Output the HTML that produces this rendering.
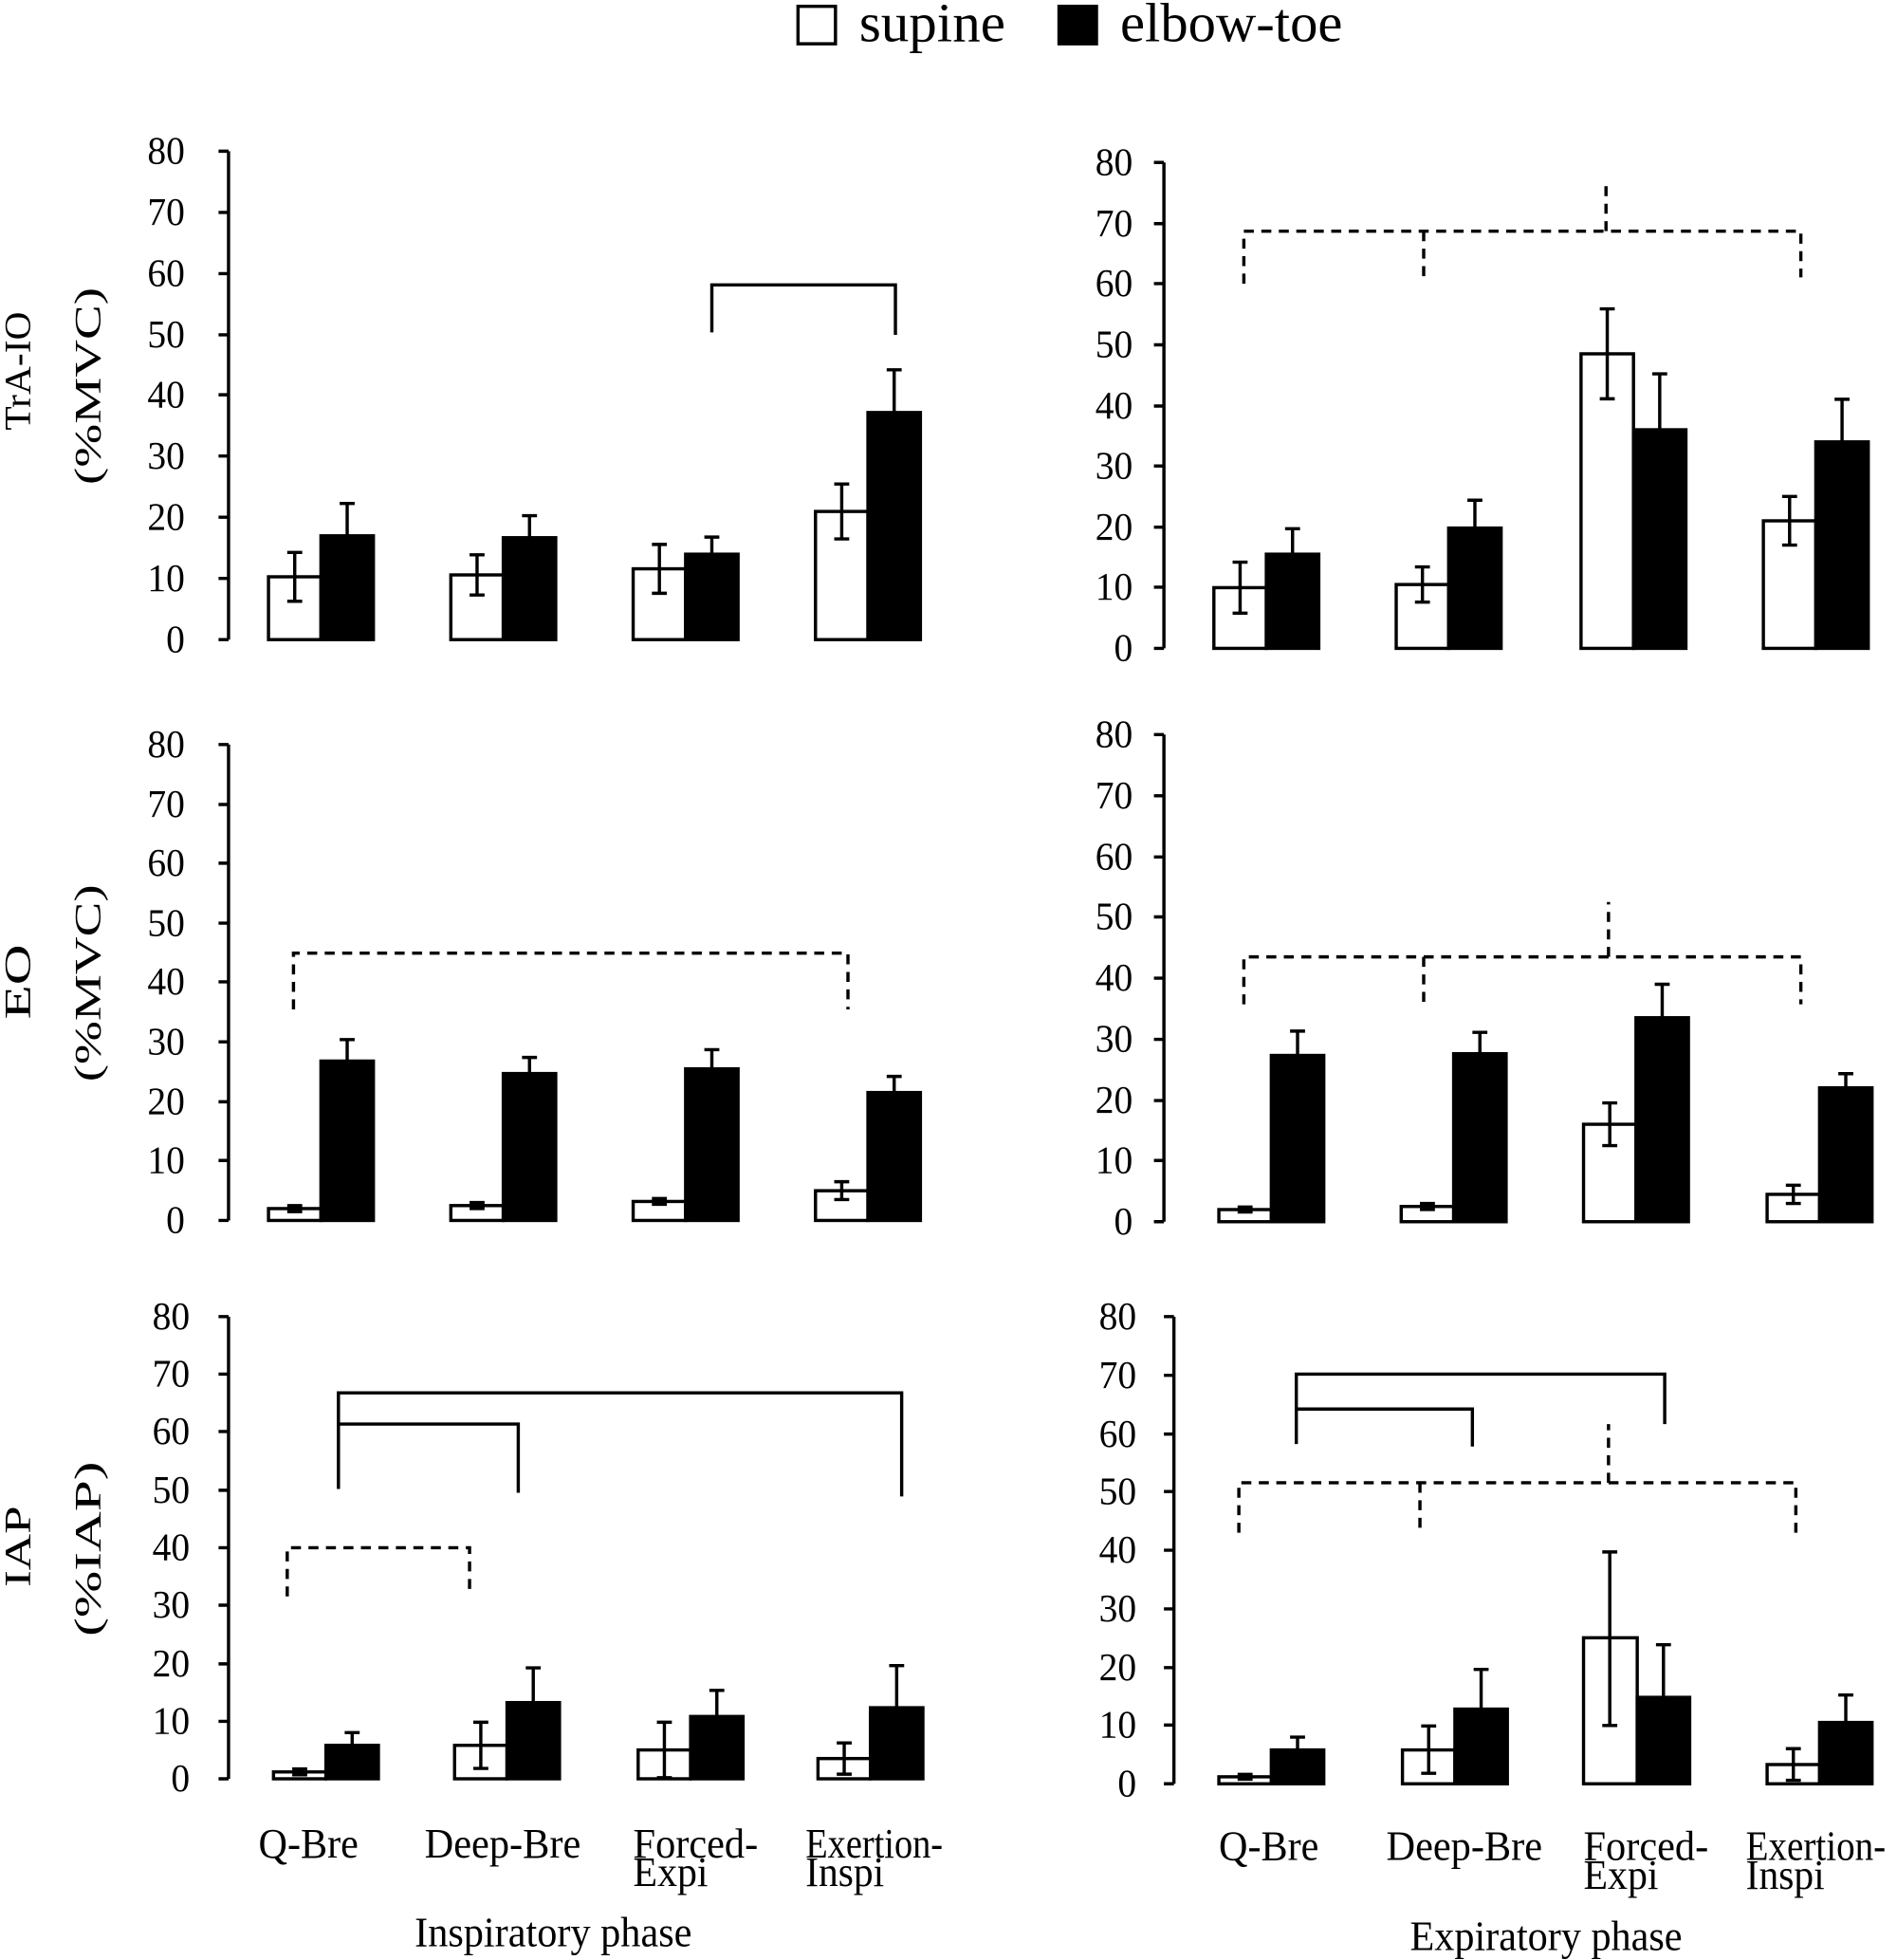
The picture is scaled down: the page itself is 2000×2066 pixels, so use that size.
<!DOCTYPE html>
<html><head><meta charset="utf-8"><style>
html,body{margin:0;padding:0;background:#fff;}
svg{display:block;}
text{font-family:"Liberation Serif",serif;fill:#000;}
.t{font-size:31px;text-anchor:end;}
.c{font-size:34px;}
.yl{font-size:30px;text-anchor:middle;}
</style></head><body>
<svg width="2000" height="2066" viewBox="0 0 1519 1569" xmlns="http://www.w3.org/2000/svg">
<g stroke="#000" stroke-width="2.6" fill="none">
<rect x="639" y="5" width="30" height="30" fill="#fff"/>
<rect x="848" y="5" width="30" height="30" fill="#000"/>
</g>
<text x="688" y="33" style="font-size:44px" textLength="117" lengthAdjust="spacingAndGlyphs">supine</text>
<text x="897" y="33" style="font-size:44px" textLength="178" lengthAdjust="spacingAndGlyphs">elbow-toe</text>

<text class="yl" transform="translate(24,297) rotate(-90)" textLength="95" lengthAdjust="spacingAndGlyphs">TrA-IO</text>
<text class="yl" transform="translate(80,309) rotate(-90)" textLength="158" lengthAdjust="spacingAndGlyphs">(%MVC)</text>
<text class="yl" transform="translate(24,786) rotate(-90)" textLength="60" lengthAdjust="spacingAndGlyphs">EO</text>
<text class="yl" transform="translate(80,787) rotate(-90)" textLength="158" lengthAdjust="spacingAndGlyphs">(%MVC)</text>
<text class="yl" transform="translate(24,1238) rotate(-90)" textLength="65" lengthAdjust="spacingAndGlyphs">IAP</text>
<text class="yl" transform="translate(80,1240) rotate(-90)" textLength="140" lengthAdjust="spacingAndGlyphs">(%IAP)</text>

<g stroke="#000" stroke-width="2.6" fill="none">
<path d="M183 121V512 M175 121H183 M175 170H183 M175 219H183 M175 268H183 M175 316H183 M175 365H183 M175 414H183 M175 463H183 M175 512H183"/>
<path d="M932 130V519 M924 130H932 M924 179H932 M924 227H932 M924 276H932 M924 325H932 M924 373H932 M924 422H932 M924 470H932 M924 519H932"/>
<path d="M183 596V977 M175 596H183 M175 644H183 M175 691H183 M175 739H183 M175 786H183 M175 834H183 M175 882H183 M175 929H183 M175 977H183"/>
<path d="M932 588V978 M924 588H932 M924 637H932 M924 686H932 M924 734H932 M924 783H932 M924 832H932 M924 881H932 M924 929H932 M924 978H932"/>
<path d="M183 1054V1424 M175 1054H183 M175 1100H183 M175 1146H183 M175 1193H183 M175 1239H183 M175 1285H183 M175 1332H183 M175 1378H183 M175 1424H183"/>
<path d="M940 1054V1428 M932 1054H940 M932 1101H940 M932 1148H940 M932 1194H940 M932 1241H940 M932 1288H940 M932 1335H940 M932 1381H940 M932 1428H940"/>
</g>

<g>
<text x="148" y="131" class="t" textLength="30" lengthAdjust="spacingAndGlyphs">80</text><text x="148" y="180" class="t" textLength="30" lengthAdjust="spacingAndGlyphs">70</text><text x="148" y="229" class="t" textLength="30" lengthAdjust="spacingAndGlyphs">60</text><text x="148" y="278" class="t" textLength="30" lengthAdjust="spacingAndGlyphs">50</text><text x="148" y="326" class="t" textLength="30" lengthAdjust="spacingAndGlyphs">40</text><text x="148" y="375" class="t" textLength="30" lengthAdjust="spacingAndGlyphs">30</text><text x="148" y="424" class="t" textLength="30" lengthAdjust="spacingAndGlyphs">20</text><text x="148" y="473" class="t" textLength="30" lengthAdjust="spacingAndGlyphs">10</text><text x="148" y="522" class="t" textLength="15" lengthAdjust="spacingAndGlyphs">0</text>
<text x="907" y="140" class="t" textLength="30" lengthAdjust="spacingAndGlyphs">80</text><text x="907" y="189" class="t" textLength="30" lengthAdjust="spacingAndGlyphs">70</text><text x="907" y="237" class="t" textLength="30" lengthAdjust="spacingAndGlyphs">60</text><text x="907" y="286" class="t" textLength="30" lengthAdjust="spacingAndGlyphs">50</text><text x="907" y="335" class="t" textLength="30" lengthAdjust="spacingAndGlyphs">40</text><text x="907" y="383" class="t" textLength="30" lengthAdjust="spacingAndGlyphs">30</text><text x="907" y="432" class="t" textLength="30" lengthAdjust="spacingAndGlyphs">20</text><text x="907" y="480" class="t" textLength="30" lengthAdjust="spacingAndGlyphs">10</text><text x="907" y="529" class="t" textLength="15" lengthAdjust="spacingAndGlyphs">0</text>
<text x="148" y="606" class="t" textLength="30" lengthAdjust="spacingAndGlyphs">80</text><text x="148" y="654" class="t" textLength="30" lengthAdjust="spacingAndGlyphs">70</text><text x="148" y="701" class="t" textLength="30" lengthAdjust="spacingAndGlyphs">60</text><text x="148" y="749" class="t" textLength="30" lengthAdjust="spacingAndGlyphs">50</text><text x="148" y="796" class="t" textLength="30" lengthAdjust="spacingAndGlyphs">40</text><text x="148" y="844" class="t" textLength="30" lengthAdjust="spacingAndGlyphs">30</text><text x="148" y="892" class="t" textLength="30" lengthAdjust="spacingAndGlyphs">20</text><text x="148" y="939" class="t" textLength="30" lengthAdjust="spacingAndGlyphs">10</text><text x="148" y="987" class="t" textLength="15" lengthAdjust="spacingAndGlyphs">0</text>
<text x="907" y="598" class="t" textLength="30" lengthAdjust="spacingAndGlyphs">80</text><text x="907" y="647" class="t" textLength="30" lengthAdjust="spacingAndGlyphs">70</text><text x="907" y="696" class="t" textLength="30" lengthAdjust="spacingAndGlyphs">60</text><text x="907" y="744" class="t" textLength="30" lengthAdjust="spacingAndGlyphs">50</text><text x="907" y="793" class="t" textLength="30" lengthAdjust="spacingAndGlyphs">40</text><text x="907" y="842" class="t" textLength="30" lengthAdjust="spacingAndGlyphs">30</text><text x="907" y="891" class="t" textLength="30" lengthAdjust="spacingAndGlyphs">20</text><text x="907" y="939" class="t" textLength="30" lengthAdjust="spacingAndGlyphs">10</text><text x="907" y="988" class="t" textLength="15" lengthAdjust="spacingAndGlyphs">0</text>
<text x="152" y="1064" class="t" textLength="30" lengthAdjust="spacingAndGlyphs">80</text><text x="152" y="1110" class="t" textLength="30" lengthAdjust="spacingAndGlyphs">70</text><text x="152" y="1156" class="t" textLength="30" lengthAdjust="spacingAndGlyphs">60</text><text x="152" y="1203" class="t" textLength="30" lengthAdjust="spacingAndGlyphs">50</text><text x="152" y="1249" class="t" textLength="30" lengthAdjust="spacingAndGlyphs">40</text><text x="152" y="1295" class="t" textLength="30" lengthAdjust="spacingAndGlyphs">30</text><text x="152" y="1342" class="t" textLength="30" lengthAdjust="spacingAndGlyphs">20</text><text x="152" y="1388" class="t" textLength="30" lengthAdjust="spacingAndGlyphs">10</text><text x="152" y="1434" class="t" textLength="15" lengthAdjust="spacingAndGlyphs">0</text>
<text x="910" y="1064" class="t" textLength="30" lengthAdjust="spacingAndGlyphs">80</text><text x="910" y="1111" class="t" textLength="30" lengthAdjust="spacingAndGlyphs">70</text><text x="910" y="1158" class="t" textLength="30" lengthAdjust="spacingAndGlyphs">60</text><text x="910" y="1204" class="t" textLength="30" lengthAdjust="spacingAndGlyphs">50</text><text x="910" y="1251" class="t" textLength="30" lengthAdjust="spacingAndGlyphs">40</text><text x="910" y="1298" class="t" textLength="30" lengthAdjust="spacingAndGlyphs">30</text><text x="910" y="1345" class="t" textLength="30" lengthAdjust="spacingAndGlyphs">20</text><text x="910" y="1391" class="t" textLength="30" lengthAdjust="spacingAndGlyphs">10</text><text x="910" y="1438" class="t" textLength="15" lengthAdjust="spacingAndGlyphs">0</text>
</g>

<g stroke="#000" stroke-width="2.6">
<rect x="215" y="461.7" width="42" height="50.3" fill="#fff"/><rect x="257" y="428.9" width="42" height="83.1" fill="#000"/>
<rect x="361" y="460.2" width="42" height="51.8" fill="#fff"/><rect x="403" y="430.4" width="42" height="81.6" fill="#000"/>
<rect x="507" y="455.3" width="42" height="56.7" fill="#fff"/><rect x="549" y="443.6" width="42" height="68.4" fill="#000"/>
<rect x="653" y="409.4" width="42" height="102.6" fill="#fff"/><rect x="695" y="330.2" width="42" height="181.8" fill="#000"/>
<rect x="972" y="470.4" width="42" height="48.6" fill="#fff"/><rect x="1014" y="443.6" width="42" height="75.4" fill="#000"/>
<rect x="1118" y="467.9" width="42" height="51.1" fill="#fff"/><rect x="1160" y="422.7" width="42" height="96.3" fill="#000"/>
<rect x="1266" y="283.2" width="42" height="235.8" fill="#fff"/><rect x="1308" y="344" width="42" height="175" fill="#000"/>
<rect x="1412" y="416.9" width="42" height="102.1" fill="#fff"/><rect x="1454" y="353.7" width="42" height="165.3" fill="#000"/>
<rect x="215" y="967.5" width="42" height="9.5" fill="#fff"/><rect x="257" y="849.4" width="42" height="127.6" fill="#000"/>
<rect x="361" y="965.1" width="42" height="11.9" fill="#fff"/><rect x="403" y="859.4" width="42" height="117.6" fill="#000"/>
<rect x="507" y="961.8" width="42" height="15.2" fill="#fff"/><rect x="549" y="855.6" width="42" height="121.4" fill="#000"/>
<rect x="653" y="953.2" width="42" height="23.8" fill="#fff"/><rect x="695" y="874.6" width="42" height="102.4" fill="#000"/>
<rect x="976" y="968.3" width="42" height="9.7" fill="#fff"/><rect x="1018" y="844.9" width="42" height="133.1" fill="#000"/>
<rect x="1122" y="965.8" width="42" height="12.2" fill="#fff"/><rect x="1164" y="843.5" width="42" height="134.5" fill="#000"/>
<rect x="1268" y="900" width="42" height="78" fill="#fff"/><rect x="1310" y="814.7" width="42" height="163.3" fill="#000"/>
<rect x="1415" y="956.1" width="42" height="21.9" fill="#fff"/><rect x="1457" y="870.8" width="42" height="107.2" fill="#000"/>
<rect x="219" y="1418.5" width="42" height="5.5" fill="#fff"/><rect x="261" y="1397.2" width="42" height="26.8" fill="#000"/>
<rect x="364" y="1397.2" width="42" height="26.8" fill="#fff"/><rect x="406" y="1363" width="42" height="61" fill="#000"/>
<rect x="511" y="1400.9" width="42" height="23.1" fill="#fff"/><rect x="553" y="1374.1" width="42" height="49.9" fill="#000"/>
<rect x="655" y="1407.8" width="42" height="16.2" fill="#fff"/><rect x="697" y="1367.1" width="42" height="56.9" fill="#000"/>
<rect x="976" y="1422.4" width="42" height="5.6" fill="#fff"/><rect x="1018" y="1400.9" width="42" height="27.1" fill="#000"/>
<rect x="1123" y="1400.9" width="42" height="27.1" fill="#fff"/><rect x="1165" y="1368.2" width="42" height="59.8" fill="#000"/>
<rect x="1268" y="1311.1" width="43" height="116.9" fill="#fff"/><rect x="1311" y="1358.8" width="42" height="69.2" fill="#000"/>
<rect x="1415" y="1412.6" width="42" height="15.4" fill="#fff"/><rect x="1457" y="1378.9" width="42" height="49.1" fill="#000"/>
</g>

<g stroke="#000" stroke-width="2.6" fill="none">
<path d="M236 442.2V481.3M230 442.2H242M230 481.3H242 M278 428.9V403M272 403H284"/>
<path d="M382 444.1V476.3M376 444.1H388M376 476.3H388 M424 430.4V412.8M418 412.8H430"/>
<path d="M528 435.8V474.9M522 435.8H534M522 474.9H534 M570 443.6V429.9M564 429.9H576"/>
<path d="M674 387.4V431.4M668 387.4H680M668 431.4H680 M716 330.2V296M710 296H722"/>
<path d="M993 450V490.8M987 450H999M987 490.8H999 M1035 443.6V423.2M1029 423.2H1041"/>
<path d="M1139 453.8V482M1133 453.8H1145M1133 482H1145 M1181 422.7V400.4M1175 400.4H1187"/>
<path d="M1287 247.2V319.2M1281 247.2H1293M1281 319.2H1293 M1329 344V299.2M1323 299.2H1335"/>
<path d="M1433 397.4V436.3M1427 397.4H1439M1427 436.3H1439 M1475 353.7V319.6M1469 319.6H1481"/>
<path d="M236 965.1V969.9M230 965.1H242M230 969.9H242 M278 849.4V832.2M272 832.2H284"/>
<path d="M382 962.7V967.5M376 962.7H388M376 967.5H388 M424 859.4V846.5M418 846.5H430"/>
<path d="M528 959.4V964.1M522 959.4H534M522 964.1H534 M570 855.6V840.3M564 840.3H576"/>
<path d="M674 946V960.3M668 946H680M668 960.3H680 M716 874.6V861.7M710 861.7H722"/>
<path d="M997 966.3V970.2M991 966.3H1003M991 970.2H1003 M1039 844.9V825.4M1033 825.4H1045"/>
<path d="M1143 963.4V968.2M1137 963.4H1149M1137 968.2H1149 M1185 843.5V826.4M1179 826.4H1191"/>
<path d="M1289 882.9V917.1M1283 882.9H1295M1283 917.1H1295 M1331 814.7V787.9M1325 787.9H1337"/>
<path d="M1436 948.8V963.4M1430 948.8H1442M1430 963.4H1442 M1478 870.8V859.5M1472 859.5H1484"/>
<path d="M240 1416.1V1420.8M234 1416.1H246M234 1420.8H246 M282 1397.2V1387M276 1387H288"/>
<path d="M385 1378.7V1415.7M379 1378.7H391M379 1415.7H391 M427 1363V1335.2M421 1335.2H433"/>
<path d="M532 1378.7V1423.1M526 1378.7H538M526 1423.1H538 M574 1374.1V1353.2M568 1353.2H580"/>
<path d="M676 1395.3V1420.3M670 1395.3H682M670 1420.3H682 M718 1367.1V1333.4M712 1333.4H724"/>
<path d="M997 1420.5V1424.3M991 1420.5H1003M991 1424.3H1003 M1039 1400.9V1390.6M1033 1390.6H1045"/>
<path d="M1144 1381.7V1419.6M1138 1381.7H1150M1138 1419.6H1150 M1186 1368.2V1336.4M1180 1336.4H1192"/>
<path d="M1289 1242.4V1381.3M1283 1242.4H1295M1283 1381.3H1295 M1332 1358.8V1316.7M1326 1316.7H1338"/>
<path d="M1436 1399.9V1425.2M1430 1399.9H1442M1430 1425.2H1442 M1478 1378.9V1356.9M1472 1356.9H1484"/>
<path d="M570 266V228H717V268"/>
<path d="M271 1192V1115H722V1198 M271 1140H415V1195"/>
<path d="M1038 1156V1100H1333V1140 M1038 1128H1179V1158"/>
</g>

<g stroke="#000" stroke-width="2.6" fill="none" stroke-dasharray="8,6">
<path d="M996 227V185H1442V222 M1140 185V222 M1286 185V143"/>
<path d="M235 808V763H679V808"/>
<path d="M996 804V766H1442V804 M1140 766V804 M1288 766V722"/>
<path d="M230 1278V1239H376V1278"/>
<path d="M992 1227V1187H1438V1227 M1137 1187V1227 M1288 1187V1140"/>
</g>

<text x="207" y="1487" class="c" textLength="80" lengthAdjust="spacingAndGlyphs">Q-Bre</text>
<text x="340" y="1487" class="c" textLength="125" lengthAdjust="spacingAndGlyphs">Deep-Bre</text>
<text x="507" y="1487" class="c" textLength="100" lengthAdjust="spacingAndGlyphs">Forced-</text>
<text x="507" y="1510" class="c" textLength="60" lengthAdjust="spacingAndGlyphs">Expi</text>
<text x="645" y="1487" class="c" textLength="110" lengthAdjust="spacingAndGlyphs">Exertion-</text>
<text x="645" y="1510" class="c" textLength="63" lengthAdjust="spacingAndGlyphs">Inspi</text>
<text x="332" y="1558" class="c" textLength="222" lengthAdjust="spacingAndGlyphs">Inspiratory phase</text>

<text x="976" y="1489" class="c" textLength="80" lengthAdjust="spacingAndGlyphs">Q-Bre</text>
<text x="1110" y="1489" class="c" textLength="125" lengthAdjust="spacingAndGlyphs">Deep-Bre</text>
<text x="1268" y="1489" class="c" textLength="100" lengthAdjust="spacingAndGlyphs">Forced-</text>
<text x="1268" y="1512" class="c" textLength="60" lengthAdjust="spacingAndGlyphs">Expi</text>
<text x="1398" y="1489" class="c" textLength="112" lengthAdjust="spacingAndGlyphs">Exertion-</text>
<text x="1398" y="1512" class="c" textLength="63" lengthAdjust="spacingAndGlyphs">Inspi</text>
<text x="1129" y="1561" class="c" textLength="218" lengthAdjust="spacingAndGlyphs">Expiratory phase</text>
</svg>
</body></html>
